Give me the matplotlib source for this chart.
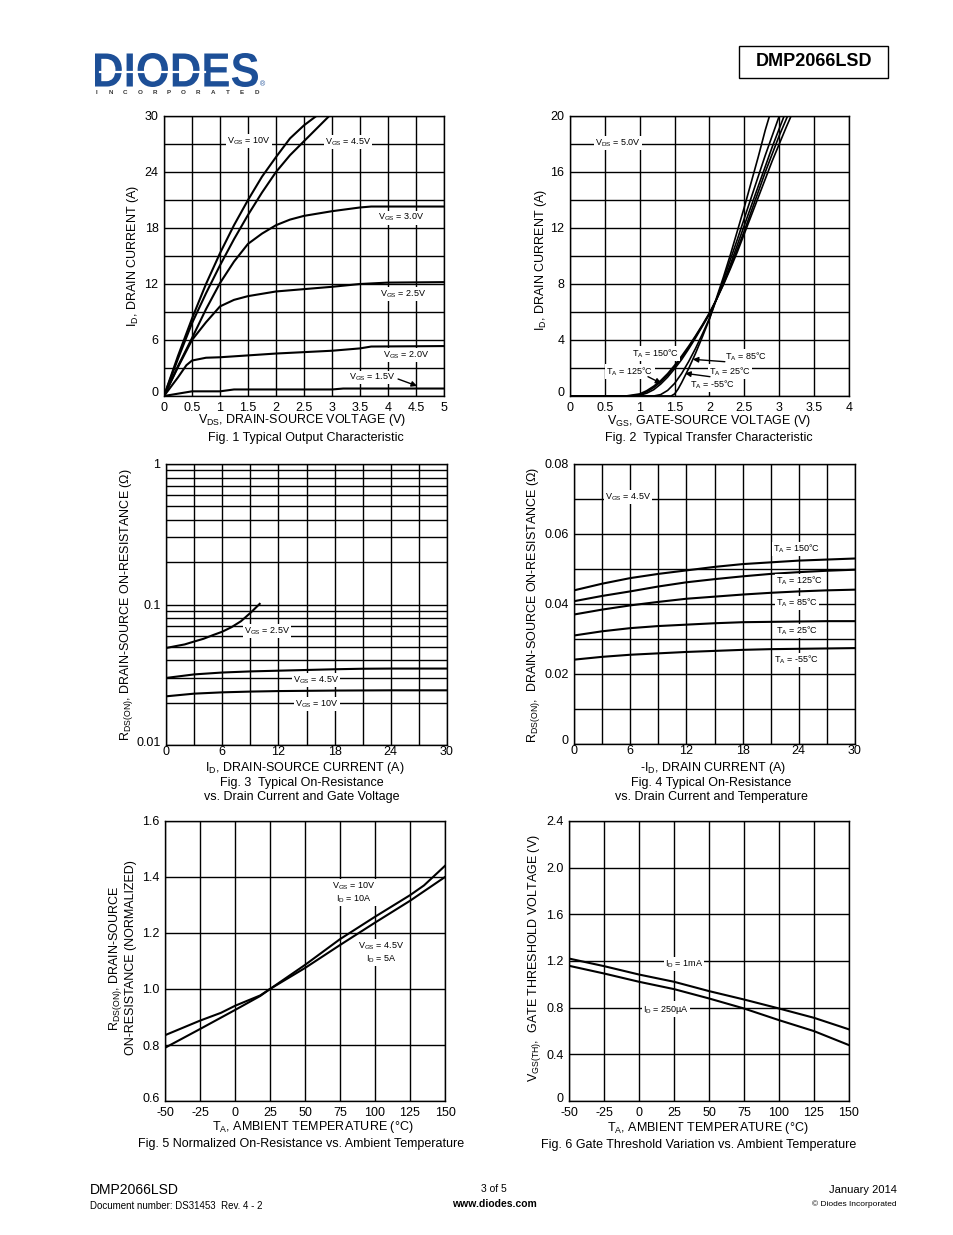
import matplotlib
matplotlib.use("Agg")
import matplotlib.pyplot as plt
import numpy as np
from matplotlib.textpath import TextPath
from matplotlib.patches import PathPatch, Rectangle
from matplotlib.font_manager import FontProperties
from matplotlib.transforms import Affine2D, ScaledTranslation
from matplotlib.lines import Line2D

plt.rcParams['font.family'] = ['Liberation Sans', 'DejaVu Sans']
plt.rcParams['mathtext.fontset'] = 'custom'
plt.rcParams['mathtext.rm'] = 'Liberation Sans'

# ---------------- data ----------------
# Fig 1: output characteristic  (VDS, ID)
f1_vgs10_x = [0, 0.25, 0.5, 0.75, 1.0, 1.25, 1.5, 1.75, 2.0, 2.25, 2.5, 2.72]
f1_vgs10_y = [0, 4.3, 8.3, 12.0, 15.3, 18.3, 21.0, 23.5, 25.6, 27.6, 29.0, 30.0]
f1_vgs45_x = [0, 0.25, 0.5, 0.75, 1.0, 1.25, 1.5, 1.75, 2.0, 2.25, 2.5, 2.75, 2.95]
f1_vgs45_y = [0, 4.0, 7.8, 11.0, 14.0, 16.8, 19.4, 21.8, 24.0, 25.8, 27.3, 28.8, 30.0]
f1_vgs30_x = [0, 0.25, 0.5, 0.75, 1.0, 1.25, 1.5, 1.75, 2.0, 2.25, 2.5, 3.0, 3.5, 3.7, 5.0]
f1_vgs30_y = [0, 3.2, 6.2, 9.3, 12.1, 14.4, 16.3, 17.4, 18.3, 18.9, 19.3, 19.8, 20.2, 20.3, 20.3]
f1_vgs25_x = [0, 0.25, 0.5, 0.75, 1.0, 1.25, 1.5, 2.0, 2.5, 3.0, 3.5, 4.0, 5.0]
f1_vgs25_y = [0, 3.1, 6.0, 7.9, 9.6, 10.3, 10.7, 11.2, 11.45, 11.7, 12.0, 12.15, 12.2]
f1_vgs20_x = [0, 0.25, 0.4, 0.5, 0.75, 1.0, 2.0, 3.0, 3.5, 3.7, 5.0]
f1_vgs20_y = [0, 2.0, 3.3, 3.8, 4.1, 4.15, 4.55, 4.85, 5.1, 5.3, 5.35]
f1_vgs15_x = [0, 0.5, 1.0, 1.25, 3.0, 3.2, 5.0]
f1_vgs15_y = [0, 0.5, 0.5, 0.7, 0.7, 0.8, 0.8]

# Fig 2: transfer characteristic (VGS, ID)
f2_m55_x = [0, 1.45, 1.5, 1.55, 1.6, 1.7, 1.8, 1.9, 2.0, 2.1, 2.2, 2.3, 2.4, 2.5, 2.6, 2.7, 2.8, 2.86]
f2_m55_y = [0, 0, 0.15, 0.5, 0.95, 1.95, 3.05, 4.25, 5.5, 7.0, 8.5, 10.1, 11.8, 13.5, 15.3, 17.1, 19.0, 20]
f2_25_x = [0, 1.2, 1.3, 1.4, 1.5, 1.6, 1.7, 1.8, 1.9, 2.0, 2.1, 2.2, 2.3, 2.4, 2.5, 2.6, 2.7, 2.8, 2.9, 3.0]
f2_25_y = [0, 0, 0.1, 0.4, 0.9, 1.6, 2.45, 3.4, 4.45, 5.55, 6.9, 8.3, 9.75, 11.2, 12.7, 14.2, 15.7, 17.2, 18.6, 20]
f2_85_x = [0, 0.9, 1.0, 1.1, 1.2, 1.3, 1.4, 1.5, 1.6, 1.7, 1.8, 1.9, 2.0, 2.1, 2.2, 2.3, 2.4, 2.5, 2.6, 2.7, 2.8, 2.9, 3.0, 3.07]
f2_85_y = [0, 0, 0.05, 0.2, 0.45, 0.85, 1.35, 1.95, 2.6, 3.35, 4.15, 5.0, 5.85, 6.9, 8.1, 9.4, 10.8, 12.2, 13.6, 15.0, 16.4, 17.8, 19.1, 20]
f2_125_x = [0, 0.85, 1.0, 1.1, 1.2, 1.3, 1.4, 1.5, 1.6, 1.7, 1.8, 1.9, 2.0, 2.1, 2.2, 2.3, 2.4, 2.5, 2.6, 2.7, 2.8, 2.9, 3.0, 3.12]
f2_125_y = [0, 0, 0.1, 0.3, 0.6, 1.0, 1.5, 2.1, 2.75, 3.45, 4.25, 5.05, 5.9, 6.9, 8.0, 9.2, 10.5, 11.8, 13.2, 14.6, 16.0, 17.3, 18.6, 20]
f2_150_x = [0, 0.8, 1.0, 1.1, 1.2, 1.3, 1.4, 1.5, 1.6, 1.7, 1.8, 1.9, 2.0, 2.1, 2.2, 2.3, 2.4, 2.5, 2.6, 2.7, 2.8, 2.9, 3.0, 3.1, 3.17]
f2_150_y = [0, 0, 0.15, 0.38, 0.7, 1.1, 1.6, 2.2, 2.85, 3.55, 4.3, 5.1, 5.95, 6.9, 7.95, 9.1, 10.3, 11.6, 12.9, 14.2, 15.5, 16.8, 18.0, 19.2, 20]

# Fig 3: RDS(on) vs ID and VGS
f3_vgs25_x = [0, 1, 2, 3, 4, 5, 6, 7, 8, 9, 10]
f3_vgs25_y = [0.049, 0.0505, 0.052, 0.0545, 0.057, 0.0605, 0.064, 0.069, 0.076, 0.087, 0.101]
f3_vgs45_x = [0, 3, 6, 9, 12, 15, 18, 21, 24, 27, 30]
f3_vgs45_y = [0.030, 0.0318, 0.0328, 0.0334, 0.0338, 0.0342, 0.0346, 0.0349, 0.035, 0.035, 0.035]
f3_vgs10_x = [0, 3, 6, 9, 12, 15, 18, 24, 30]
f3_vgs10_y = [0.0222, 0.0232, 0.0237, 0.024, 0.0242, 0.0243, 0.0244, 0.0245, 0.0245]

# Fig 4: RDS(on) vs ID and temperature
f4_x = [0, 3, 6, 9, 12, 15, 18, 21, 24, 27, 30]
f4_150 = [0.0439, 0.0458, 0.0474, 0.0486, 0.0496, 0.0506, 0.0514, 0.0519, 0.0524, 0.0527, 0.0530]
f4_125 = [0.0408, 0.0423, 0.0436, 0.0450, 0.0462, 0.0471, 0.0479, 0.0486, 0.0491, 0.0495, 0.0498]
f4_85 = [0.0370, 0.0384, 0.0396, 0.0406, 0.0415, 0.0421, 0.0427, 0.0432, 0.0436, 0.0439, 0.0441]
f4_25 = [0.0310, 0.0322, 0.0331, 0.0337, 0.0341, 0.0345, 0.0348, 0.0349, 0.0350, 0.0351, 0.0351]
f4_m55 = [0.0241, 0.0249, 0.0255, 0.0259, 0.0263, 0.0266, 0.0269, 0.0271, 0.0272, 0.0273, 0.0274]

# Fig 5: normalized RDS(on) vs temperature
f5_x10 = [-50, -25, 0, 18, 25, 50, 75, 100, 125, 135, 150]
f5_vgs10 = [0.79, 0.857, 0.925, 0.975, 1.0, 1.086, 1.178, 1.258, 1.335, 1.37, 1.44]
f5_x45 = [-50, -25, -10, 0, 18, 25, 50, 75, 100, 125, 150]
f5_vgs45 = [0.835, 0.887, 0.915, 0.94, 0.977, 1.0, 1.075, 1.157, 1.237, 1.315, 1.40]

# Fig 6: gate threshold vs temperature
f6_x = [-50, -25, 0, 25, 50, 75, 100, 125, 150]
f6_1mA = [1.221, 1.156, 1.084, 1.022, 0.942, 0.870, 0.793, 0.713, 0.614]
f6_250uA = [1.159, 1.093, 1.022, 0.959, 0.879, 0.793, 0.693, 0.599, 0.479]

# ---------------- figure ----------------
W, H = 954, 1235
fig = plt.figure(figsize=(W / 100, H / 100), dpi=100)
fig.patch.set_facecolor('white')


def P(x, y):
    return x / W, 1 - y / H


def T(x, y, s, **kw):
    kw.setdefault('ha', 'center')
    kw.setdefault('va', 'center')
    kw.setdefault('fontsize', 9)
    fig.text(*P(x, y), s, **kw)


def make_ax(l, t, r, b, xpad=4):
    ax = fig.add_axes([l / W, 1 - b / H, (r - l) / W, (b - t) / H])
    ax.tick_params(length=0, labelsize=9, pad=4, colors='black')
    ax.tick_params(axis='x', pad=xpad)
    for sp in ax.spines.values():
        sp.set_linewidth(1.0)
        sp.set_color('black')
    ax.set_axisbelow(True)
    return ax


def setgrid(ax, xt, xl, yt, yl):
    ax.set_xticks(xt)
    ax.set_xticklabels(xl)
    ax.set_yticks(yt)
    ax.set_yticklabels(yl)
    ax.grid(True, color='black', lw=1.0)


def lift_bottom_label(ax, px=4):
    lbl = ax.get_yticklabels()[0]
    lbl.set_transform(lbl.get_transform() + ScaledTranslation(0, px / 100, fig.dpi_scale_trans))


LW = 1.5
lab = dict(fontsize=6.5, ha='center', va='center',
           bbox=dict(fc='white', ec='none', pad=0.8))
arrow = dict(arrowstyle='-|>', color='black', lw=1.0, mutation_scale=8, shrinkA=0, shrinkB=0)


def sub(a, b):
    return a + r'$_\mathregular{' + b + '}$'


VGS = sub('V', 'GS')
TA = sub('T', 'A')

# ---- Fig 1 ----
ax1 = make_ax(164, 116, 444, 396)
ax1.set_xlim(0, 5)
ax1.set_ylim(0, 30)
xt = np.arange(0, 5.01, 0.5)
setgrid(ax1, xt, ['0', '0.5', '1', '1.5', '2', '2.5', '3', '3.5', '4', '4.5', '5'],
        np.arange(0, 31, 3), ['0', '', '6', '', '12', '', '18', '', '24', '', '30'])
for xs, ys in [(f1_vgs10_x, f1_vgs10_y), (f1_vgs45_x, f1_vgs45_y), (f1_vgs30_x, f1_vgs30_y),
               (f1_vgs25_x, f1_vgs25_y), (f1_vgs20_x, f1_vgs20_y), (f1_vgs15_x, f1_vgs15_y)]:
    ax1.plot(xs, ys, color='black', lw=LW)
ax1.text(1.52, 27.3, VGS + ' = 10V', **lab)
ax1.text(3.28, 27.2, VGS + ' = 4.5V', **lab)
ax1.text(4.23, 19.1, VGS + ' = 3.0V', **lab)
ax1.text(4.27, 10.9, VGS + ' = 2.5V', **lab)
ax1.text(4.32, 4.4, VGS + ' = 2.0V', **lab)
ax1.text(3.71, 2.0, VGS + ' = 1.5V', **lab)
ax1.annotate('', xy=(4.52, 1.07), xytext=(4.18, 1.82), arrowprops=arrow)
T(302, 420, sub('V', 'DS') + ', DRAIN-SOURCE VOLTAGE (V)')
T(306, 438, 'Fig. 1 Typical Output Characteristic')
T(133, 256, sub('I', 'D') + ', DRAIN CURRENT (A)', rotation=90)
lift_bottom_label(ax1)

# ---- Fig 2 ----
ax2 = make_ax(570, 116, 849, 396)
ax2.set_xlim(0, 4)
ax2.set_ylim(0, 20)
setgrid(ax2, np.arange(0, 4.01, 0.5), ['0', '0.5', '1', '1.5', '2', '2.5', '3', '3.5', '4'],
        np.arange(0, 21, 2), ['0', '', '4', '', '8', '', '12', '', '16', '', '20'])
for xs, ys in [(f2_m55_x, f2_m55_y), (f2_25_x, f2_25_y), (f2_85_x, f2_85_y),
               (f2_125_x, f2_125_y), (f2_150_x, f2_150_y)]:
    ax2.plot(xs, ys, color='black', lw=1.2)
ax2.text(0.69, 18.07, sub('V', 'DS') + ' = 5.0V', **lab)
ax2.text(1.22, 3.05, TA + ' = 150°C', **lab)
ax2.text(0.86, 1.74, TA + ' = 125°C', **lab)
ax2.text(2.53, 2.81, TA + ' = 85°C', **lab)
ax2.text(2.29, 1.74, TA + ' = 25°C', **lab)
ax2.text(2.05, 0.79, TA + ' = -55°C', **lab)
ax2.annotate('', xy=(1.31, 0.9), xytext=(1.118, 1.38), arrowprops=arrow)
ax2.annotate('', xy=(1.76, 2.62), xytext=(2.22, 2.45), arrowprops=arrow)
ax2.annotate('', xy=(1.65, 1.62), xytext=(2.007, 1.38), arrowprops=arrow)
T(709, 421, sub('V', 'GS') + ', GATE-SOURCE VOLTAGE (V)')
T(709, 438, 'Fig. 2  Typical Transfer Characteristic')
T(541, 260, sub('I', 'D') + ', DRAIN CURRENT (A)', rotation=90)
lift_bottom_label(ax2)

# ---- Fig 3 ----
ax3 = make_ax(166, 464, 447, 745, xpad=1)
ax3.set_yscale('log')
ax3.set_xlim(0, 30)
ax3.set_ylim(0.01, 1)
ax3.set_xticks(np.arange(0, 31, 3))
ax3.set_xticklabels(['0', '', '6', '', '12', '', '18', '', '24', '', '30'])
ax3.set_yticks([0.01, 0.1, 1])
ax3.set_yticklabels(['0.01', '0.1', '1'])
ax3.set_yticks([m * d for d in (0.01, 0.1) for m in range(2, 10)], minor=True)
ax3.tick_params(which='minor', length=0)
ax3.grid(True, which='both', color='black', lw=1.0)
for xs, ys in [(f3_vgs25_x, f3_vgs25_y), (f3_vgs45_x, f3_vgs45_y), (f3_vgs10_x, f3_vgs10_y)]:
    ax3.plot(xs, ys, color='black', lw=LW)
ax3.text(10.8, 0.0648, VGS + ' = 2.5V', **lab)
ax3.text(16.0, 0.0290, VGS + ' = 4.5V', **lab)
ax3.text(16.1, 0.0196, VGS + ' = 10V', **lab)
T(305, 768, sub('I', 'D') + ', DRAIN-SOURCE CURRENT (A)')
T(302, 783, 'Fig. 3  Typical On-Resistance')
T(302, 797, 'vs. Drain Current and Gate Voltage')
T(127, 605, sub('R', 'DS(ON)') + ', DRAIN-SOURCE ON-RESISTANCE (Ω)', rotation=90)
lift_bottom_label(ax3)

# ---- Fig 4 ----
ax4 = make_ax(574, 464, 855, 744, xpad=1)
ax4.set_xlim(0, 30)
ax4.set_ylim(0, 0.08)
setgrid(ax4, np.arange(0, 31, 3), ['0', '', '6', '', '12', '', '18', '', '24', '', '30'],
        np.linspace(0, 0.08, 9), ['0', '', '0.02', '', '0.04', '', '0.06', '', '0.08'])
for ys in [f4_150, f4_125, f4_85, f4_25, f4_m55]:
    ax4.plot(f4_x, ys, color='black', lw=LW)
ax4.text(5.76, 0.0706, VGS + ' = 4.5V', **lab)
ax4.text(23.8, 0.0557, TA + ' = 150°C', **lab)
ax4.text(24.1, 0.0466, TA + ' = 125°C', **lab)
ax4.text(23.8, 0.0403, TA + ' = 85°C', **lab)
ax4.text(23.8, 0.0323, TA + ' = 25°C', **lab)
ax4.text(23.8, 0.0240, TA + ' = -55°C', **lab)
T(713, 768, '-' + sub('I', 'D') + ', DRAIN CURRENT (A)')
T(711, 783, 'Fig. 4 Typical On-Resistance')
T(711, 797, 'vs. Drain Current and Temperature')
T(534, 605, sub('R', 'DS(ON)') + ',  DRAIN-SOURCE ON-RESISTANCE (Ω)', rotation=90)
lift_bottom_label(ax4)

# ---- Fig 5 ----
ax5 = make_ax(165, 821, 445, 1101, xpad=4)
ax5.set_xlim(-50, 150)
ax5.set_ylim(0.6, 1.6)
setgrid(ax5, np.arange(-50, 151, 25), ['-50', '-25', '0', '25', '50', '75', '100', '125', '150'],
        np.linspace(0.6, 1.6, 6), ['0.6', '0.8', '1.0', '1.2', '1.4', '1.6'])
ax5.plot(f5_x10, f5_vgs10, color='black', lw=LW)
ax5.plot(f5_x45, f5_vgs45, color='black', lw=LW)
ax5.text(85, 1.343, VGS + ' = 10V\n' + sub('I', 'D') + ' = 10A', linespacing=1.1, **lab)
ax5.text(104.3, 1.129, VGS + ' = 4.5V\n' + sub('I', 'D') + ' = 5A', linespacing=1.1, **lab)
T(313, 1127, sub('T', 'A') + ', AMBIENT TEMPERATURE (°C)')
T(301, 1144, 'Fig. 5 Normalized On-Resistance vs. Ambient Temperature')
T(116, 958, sub('R', 'DS(ON)') + ', DRAIN-SOURCE', rotation=90)
T(131, 958, 'ON-RESISTANCE (NORMALIZED)', rotation=90)
lift_bottom_label(ax5)

# ---- Fig 6 ----
ax6 = make_ax(569, 821, 849, 1101, xpad=4)
ax6.set_xlim(-50, 150)
ax6.set_ylim(0, 2.4)
setgrid(ax6, np.arange(-50, 151, 25), ['-50', '-25', '0', '25', '50', '75', '100', '125', '150'],
        np.linspace(0, 2.4, 7), ['0', '0.4', '0.8', '1.2', '1.6', '2.0', '2.4'])
ax6.plot(f6_x, f6_1mA, color='black', lw=LW)
ax6.plot(f6_x, f6_250uA, color='black', lw=LW)
ax6.text(32.1, 1.174, sub('I', 'D') + ' = 1mA', **lab)
ax6.text(19.3, 0.788, sub('I', 'D') + ' = 250µA', **lab)
T(708, 1128, sub('T', 'A') + ', AMBIENT TEMPERATURE (°C)')
T(699, 1145, 'Fig. 6 Gate Threshold Variation vs. Ambient Temperature')
T(535, 958, sub('V', 'GS(TH)') + ',  GATE THRESHOLD VOLTAGE (V)', rotation=90)
lift_bottom_label(ax6)

# ---------------- header ----------------
blue = '#1d4f97'
fp = FontProperties(family='Liberation Sans', weight='bold')
tp = TextPath((0, 0), 'DIODES', size=100, prop=fp)
bb = tp.get_extents()
x0, x1, y0, y1 = 95, 258, 53, 87
sx = (x1 - x0) / bb.width
sy = (y1 - y0) / bb.height
tr = Affine2D().translate(-bb.x0, -bb.y0).scale(sx, sy).translate(x0, H - y1)
fig.add_artist(PathPatch(tp, transform=tr, fc=blue, ec='none'))
fig.add_artist(Line2D([100 / W, 205 / W], [1 - 71.5 / H, 1 - 71.5 / H], color='white', lw=1.6,
                      transform=fig.transFigure))
T(263, 85, '®', fontsize=5, color=blue)
for i, ch in enumerate('INCORPORATED'):
    T(96 + i * 14.6, 93, ch, fontsize=4.5, weight='bold', color='#333333')

fig.add_artist(Rectangle(P(739, 78), 149 / W, 32 / H, transform=fig.transFigure,
                         fill=False, ec='black', lw=1.0))
T(814, 62, 'DMP2066LSD', fontsize=13, weight='bold')

# ---------------- footer ----------------
T(90, 1190, 'DMP2066LSD', fontsize=10, ha='left')
T(90, 1206, 'Document number: DS31453  Rev. 4 - 2', fontsize=7, ha='left')
T(494, 1189, '3 of 5', fontsize=7.5)
T(494, 1204, 'www.diodes.com', fontsize=7.5, weight='bold')
T(897, 1190, 'January 2014', fontsize=8, ha='right')
T(897, 1204, '© Diodes Incorporated', fontsize=6, ha='right')

fig.savefig('out.png', dpi=100)
